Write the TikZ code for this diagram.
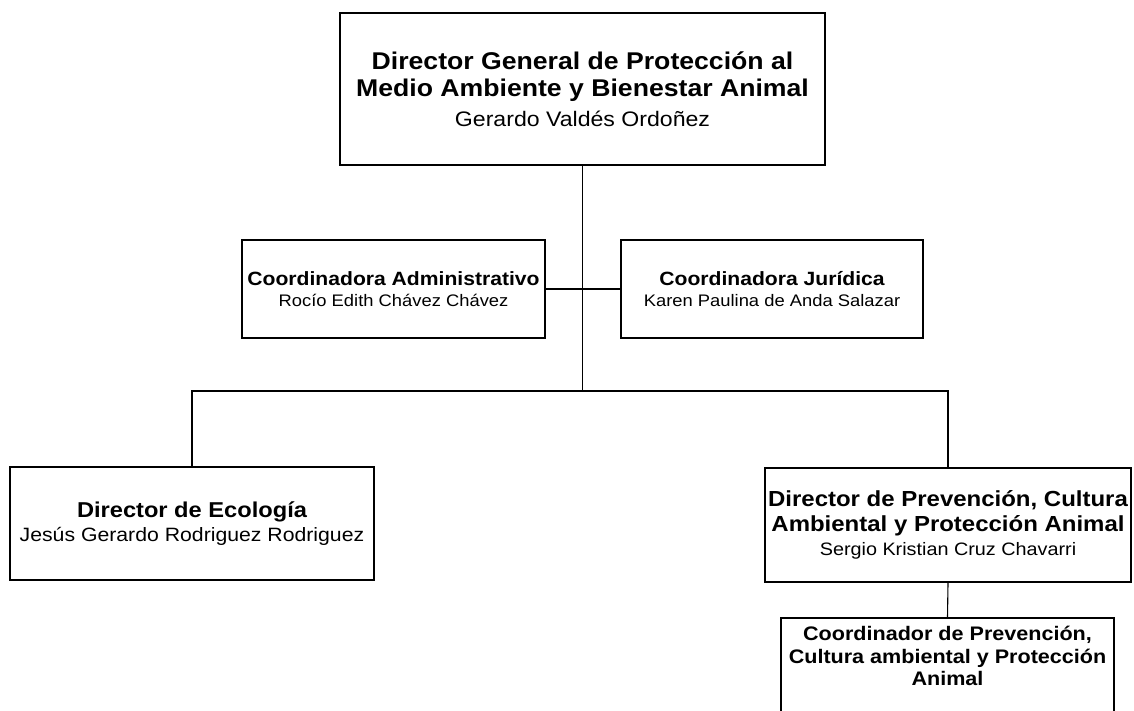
\documentclass[tikz,border=0pt]{standalone}
\usepackage{fontspec}
\setmainfont{Liberation Sans}[FakeStretch=1.1]
\newcommand{\tit}[2]{{\bfseries\fontsize{#1}{#1}\selectfont #2}}
\begin{document}
\begin{tikzpicture}[x=1pt, y=-1pt, line join=miter,
	caja/.style 2 args={draw, line width=1.8pt, rectangle, minimum width=#1pt, minimum height=#2pt, align=center, inner sep=3pt},
	linea/.style={line width=1.1pt}]
		\clip (0,0) rectangle (1134,711);
		\fill[white] (0,0) rectangle (1134,711);
		% cajas
		\node[caja={485}{152}, font=\fontsize{21}{27}\selectfont] (gen) at (582.5,89)
			{\tit{24.2}{Director General de Protección al}\\ \tit{24.2}{Medio Ambiente y Bienestar Animal}\\[2.5pt] Gerardo Valdés Ordoñez};
		\node[caja={303}{98}, font=\fontsize{16.7}{21.5}\selectfont] (adm) at (393.5,289)
			{\tit{19.2}{Coordinadora Administrativo}\\ Rocío Edith Chávez Chávez};
		\node[caja={302}{98}, font=\fontsize{16.7}{21.5}\selectfont] (jur) at (772,289)
			{\tit{19.2}{Coordinadora Jurídica}\\ Karen Paulina de Anda Salazar};
		\node[caja={364}{113}, font=\fontsize{19.3}{24}\selectfont] (eco) at (192,523.5)
			{\tit{21.5}{Director de Ecología}\\ Jesús Gerardo Rodriguez Rodriguez};
		\node[caja={364}{114}, font=\fontsize{18}{25}\selectfont] (prev) at (948,525)
			{\tit{21.8}{Director de Prevención, Cultura}\\ \tit{21.8}{Ambiental y Protección Animal}\\[-1pt] Sergio Kristian Cruz Chavarri};
		\node[caja={333}{10}, anchor=north, inner ysep=8.5pt, font=\fontsize{19.6}{22.5}\selectfont] (coord) at (947.5,617)
			{\tit{19.6}{Coordinador de Prevención,}\\ \tit{19.6}{Cultura ambiental y Protección}\\ \tit{19.6}{Animal}\\[40pt]\mbox{}};
		% lineas
		\coordinate (bus) at (582.5,391);
		\draw[linea] (gen.south) -- (bus);
		\draw[linea] (adm.east) -- (jur.west);
		\draw[linea] (eco.north) |- (bus) -| (prev.north);
		\draw[linea] (prev.south) -- (coord.north);
	\end{tikzpicture}
\end{document}
